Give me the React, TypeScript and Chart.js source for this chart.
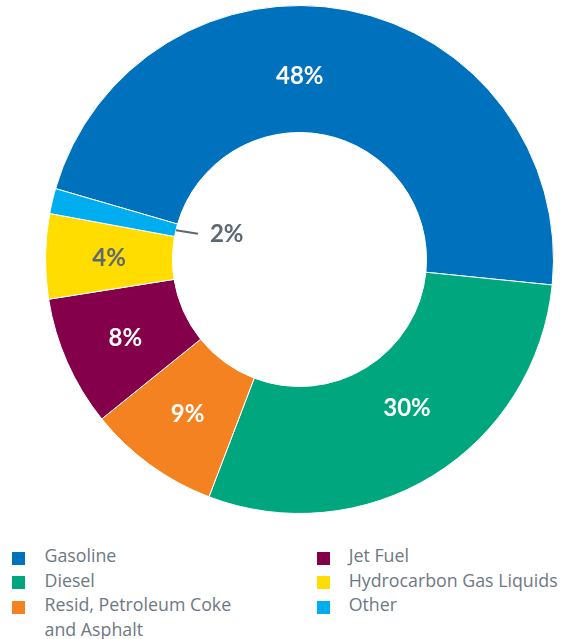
import { useEffect, useRef } from "react";
import { Chart, registerables } from "chart.js";

Chart.register(...registerables);

const categories = [
  "Gasoline",
  "Diesel",
  "Resid, Petroleum Coke and Asphalt",
  "Jet Fuel",
  "Hydrocarbon Gas Liquids",
  "Other",
];
const shares = [47.1, 29.2, 8.4, 8.3, 5.4, 1.6];
const shareLabels = ["48%", "30%", "9%", "8%", "4%", "2%"];
const sliceColors = ["#0071BC", "#00A77E", "#F58220", "#85004B", "#FFDD00", "#00AEEF"];
const labelColors = ["#ffffff", "#ffffff", "#ffffff", "#ffffff", "#5d6872", "#5d6872"];

const GRAY = "#5d6872";
const LEGEND_GRAY = "#6e7882";

const sliceLabelPlugin = {
  id: "sliceLabels",
  afterDatasetsDraw(chart: any, _args: any, opts: any) {
    const ctx = chart.ctx;
    const meta = chart.getDatasetMeta(0);
    ctx.save();
    ctx.font = opts.font;
    meta.data.forEach((arc: any, i: number) => {
      const p = arc.getProps(["x", "y", "startAngle", "endAngle", "innerRadius", "outerRadius"], true);
      const adj = (opts.adjust && opts.adjust[i]) || {};
      const mid = (p.startAngle + p.endAngle) / 2 + ((adj.dAngle || 0) * Math.PI) / 180;
      const text = shareLabels[i];
      ctx.fillStyle = labelColors[i];
      if (adj.callout) {
        const sx = p.x + Math.cos(mid) * p.innerRadius;
        const sy = p.y + Math.sin(mid) * p.innerRadius;
        const ex = sx + adj.callout.dx;
        const ey = sy + adj.callout.dy;
        ctx.strokeStyle = GRAY;
        ctx.lineWidth = 2;
        ctx.beginPath();
        ctx.moveTo(sx, sy);
        ctx.lineTo(ex, ey);
        ctx.stroke();
        ctx.textAlign = "left";
        ctx.textBaseline = "middle";
        ctx.fillText(text, ex + adj.callout.gap, ey + 1);
      } else {
        const r = adj.r != null ? adj.r : (p.innerRadius + p.outerRadius) / 2;
        const lx = p.x + Math.cos(mid) * r;
        const ly = p.y + Math.sin(mid) * r;
        ctx.textAlign = "center";
        ctx.textBaseline = "middle";
        ctx.fillText(text, lx, ly + 1);
      }
    });
    ctx.restore();
  },
};

export default function App() {
  const canvasRef = useRef<HTMLCanvasElement | null>(null);

  useEffect(() => {
    if (!canvasRef.current) return;
    const chart = new Chart(canvasRef.current, {
      type: "doughnut",
      data: {
        labels: categories,
        datasets: [
          {
            data: shares,
            backgroundColor: sliceColors,
            borderColor: "#ffffff",
            borderWidth: 1,
          },
        ],
      },
      options: {
        animation: false,
        responsive: false,
        maintainAspectRatio: false,
        rotation: -73.8,
        cutout: "50%",
        layout: { padding: { left: 45, right: 8, top: 5, bottom: 16 } },
        plugins: {
          legend: { display: false },
          tooltip: { enabled: false },
          sliceLabels: {
            font: "bold 24px Lato",
            adjust: {
              0: { dAngle: -10.9, r: 184 },
              1: { dAngle: -4.3, r: 183 },
              5: { callout: { dx: 22, dy: 3.5, gap: 12 } },
            },
          },
        } as any,
      },
      plugins: [sliceLabelPlugin],
    });
    let alive = true;
    if ((document as any).fonts && (document as any).fonts.load) {
      Promise.all([
        (document as any).fonts.load("bold 24px Lato"),
        (document as any).fonts.load("17.8px 'Open Sans'"),
      ]).then(() => {
        if (alive) chart.draw();
      });
    }
    return () => {
      alive = false;
      chart.destroy();
    };
  }, []);

  const legendOrder = [0, 1, 2, 3, 4, 5];

  return (
    <div style={{ position: "absolute", left: 0, top: 0, width: 562, height: 639, background: "#fff" }}>
      <canvas ref={canvasRef} width={562} height={530} style={{ display: "block", width: 562, height: 530 }} />
      <div
        style={{
          position: "absolute",
          left: 0,
          top: 543,
          width: 562,
          display: "grid",
          gridTemplateColumns: "305px 257px",
          gridTemplateRows: "24.5px 24.5px 24.5px",
          gridAutoFlow: "column",
          fontFamily: "'Open Sans', Lato, sans-serif",
          fontSize: 17.8,
          lineHeight: "24.5px",
          color: LEGEND_GRAY,
        }}
      >
        {legendOrder.map((i) => (
          <div key={i} style={{ position: "relative", paddingLeft: i < 3 ? 44.5 : 43.7 }}>
            <span
              style={{
                position: "absolute",
                left: 12,
                top: 8.5,
                width: 13,
                height: 13,
                background: sliceColors[i],
              }}
            />
            <div style={{ width: i < 3 ? 200 : 214, whiteSpace: i < 3 ? "normal" : "nowrap" }}>{categories[i]}</div>
          </div>
        ))}
      </div>
    </div>
  );
}
